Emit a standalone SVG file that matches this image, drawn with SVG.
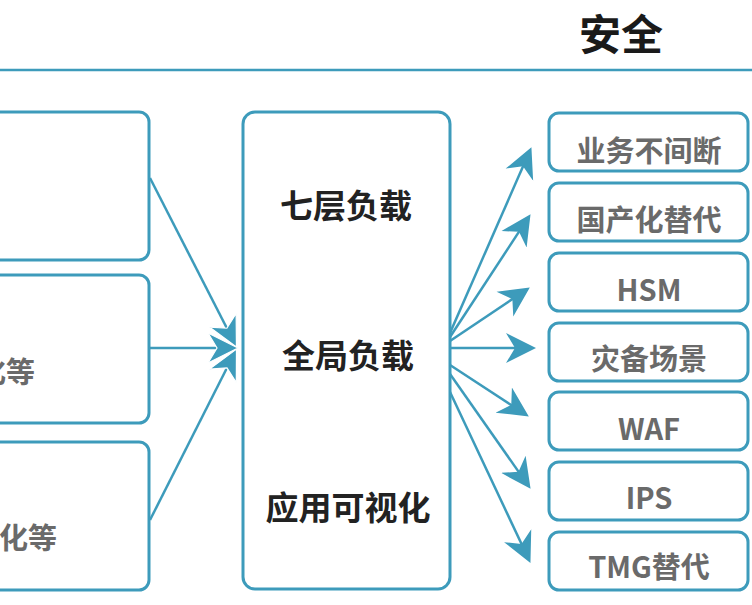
<svg xmlns="http://www.w3.org/2000/svg" width="752" height="605" viewBox="0 0 752 605">
  <style>
    .box { fill: #ffffff; stroke: #3d9bbb; stroke-width: 3; }
    .conn { stroke: #3d9bbb; stroke-width: 2.5; fill: none; }
    .title { font-family: "Noto Sans CJK SC", "Noto Sans", sans-serif; font-weight: bold; fill: #1a1a1a; }
    .mid { font-family: "Noto Sans CJK SC", "Noto Sans", sans-serif; font-weight: bold; fill: #222222; font-size: 33px; }
    .item { font-family: "Noto Sans CJK SC", "Noto Sans", sans-serif; font-weight: bold; fill: #6a6a6a; font-size: 29px; }
  </style>
  <defs>
    <marker id="ah" markerUnits="userSpaceOnUse" viewBox="0 0 32 32" markerWidth="32" markerHeight="32" refX="13" refY="16" orient="auto">
      <path d="M30,16 L0,1 L9,16 L0,31 Z" fill="#3d9bbb"/>
    </marker>
    <marker id="ahw" markerUnits="userSpaceOnUse" viewBox="-2 -2 36 36" markerWidth="36" markerHeight="36" refX="13" refY="16" orient="auto">
      <path d="M30,16 L0,1 L9,16 L0,31 Z" fill="#3d9bbb" stroke="#ffffff" stroke-width="1.2" stroke-linejoin="miter"/>
    </marker>
  </defs>

  <rect width="752" height="605" fill="#ffffff"/>

  <g id="header">
    <line x1="0" y1="70" x2="752" y2="70" stroke="#3d9bbb" stroke-width="2.5"/>
    <text class="title" x="621" y="31" font-size="42" text-anchor="middle" dominant-baseline="central">安全</text>
  </g>

  <g id="left-1">
    <rect class="box" x="-20" y="112" width="169" height="148" rx="10"/>
  </g>
  <g id="left-2">
    <rect class="box" x="-20" y="275" width="169" height="148" rx="10"/>
    <text class="item" x="35" y="370" font-size="27" text-anchor="end" dominant-baseline="central">化等</text>
  </g>
  <g id="left-3">
    <rect class="box" x="-20" y="442" width="169" height="148" rx="10"/>
    <text class="item" x="57" y="536" font-size="27" text-anchor="end" dominant-baseline="central">化等</text>
  </g>

  <g id="center">
    <rect class="box" x="243" y="112" width="207" height="477" rx="12"/>
    <text class="mid" x="346" y="204" text-anchor="middle" dominant-baseline="central">七层负载</text>
    <text class="mid" x="348" y="354" text-anchor="middle" dominant-baseline="central">全局负载</text>
    <text class="mid" x="348" y="506" text-anchor="middle" dominant-baseline="central">应用可视化</text>
  </g>

  <g id="r1"><rect class="box" x="549" y="113" width="199" height="58" rx="10"/><text class="item" x="649" y="149" text-anchor="middle" dominant-baseline="central">业务不间断</text></g>
  <g id="r2"><rect class="box" x="549" y="183" width="199" height="58" rx="10"/><text class="item" x="649" y="218" text-anchor="middle" dominant-baseline="central">国产化替代</text></g>
  <g id="r3"><rect class="box" x="549" y="253" width="199" height="58" rx="10"/><text class="item" x="649" y="288" text-anchor="middle" dominant-baseline="central">HSM</text></g>
  <g id="r4"><rect class="box" x="549" y="323" width="199" height="58" rx="10"/><text class="item" x="649" y="357" text-anchor="middle" dominant-baseline="central">灾备场景</text></g>
  <g id="r5"><rect class="box" x="549" y="392" width="199" height="58" rx="10"/><text class="item" x="649" y="427" text-anchor="middle" dominant-baseline="central">WAF</text></g>
  <g id="r6"><rect class="box" x="549" y="462" width="199" height="58" rx="10"/><text class="item" x="649" y="496" text-anchor="middle" dominant-baseline="central">IPS</text></g>
  <g id="r7"><rect class="box" x="549" y="532" width="199" height="58" rx="10"/><text class="item" x="649" y="565" text-anchor="middle" dominant-baseline="central">TMG替代</text></g>

  <g id="connectors">
    <line class="conn" x1="150" y1="178" x2="228.7" y2="331.8" marker-end="url(#ahw)"/>
    <line class="conn" x1="150" y1="520" x2="228.8" y2="364.3" marker-end="url(#ahw)"/>
    <line class="conn" x1="150" y1="348" x2="221" y2="348" marker-end="url(#ahw)"/>

    <line class="conn" x1="450" y1="333" x2="524.6" y2="162.7" marker-end="url(#ah)"/>
    <line class="conn" x1="450" y1="337" x2="521.2" y2="228.4" marker-end="url(#ah)"/>
    <line class="conn" x1="450" y1="341" x2="515.7" y2="296.9" marker-end="url(#ah)"/>
    <line class="conn" x1="450" y1="348" x2="519" y2="348" marker-end="url(#ah)"/>
    <line class="conn" x1="450" y1="365" x2="514.6" y2="407.2" marker-end="url(#ah)"/>
    <line class="conn" x1="450" y1="374" x2="520.8" y2="474.9" marker-end="url(#ah)"/>
    <line class="conn" x1="450" y1="392" x2="523.2" y2="547.5" marker-end="url(#ah)"/>
  </g>
</svg>
